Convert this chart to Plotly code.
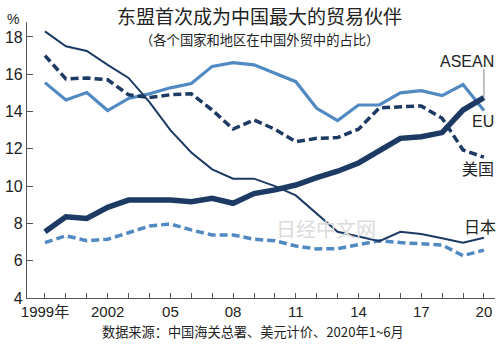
import plotly.graph_objects as go

years = list(range(1999, 2021))
japan = [18.3, 17.5, 17.25, 16.5, 15.8, 14.5, 13.0, 11.8, 10.9, 10.4, 10.4, 10.0, 9.5, 8.55, 7.55, 7.3, 7.05, 7.55, 7.43, 7.2, 6.96, 7.23]
usa = [17.0, 15.75, 15.8, 15.7, 14.9, 14.75, 14.9, 14.95, 14.08, 13.06, 13.55, 13.05, 12.38, 12.56, 12.6, 13.05, 14.2, 14.23, 14.3, 13.64, 11.94, 11.55]
eu = [15.55, 14.62, 15.02, 14.05, 14.7, 14.95, 15.27, 15.5, 16.42, 16.62, 16.5, 16.05, 15.6, 14.17, 13.51, 14.35, 14.35, 15.0, 15.12, 14.85, 15.45, 14.05]
asean = [7.55, 8.35, 8.27, 8.86, 9.25, 9.25, 9.25, 9.16, 9.35, 9.08, 9.6, 9.8, 10.06, 10.45, 10.8, 11.24, 11.94, 12.56, 12.65, 12.87, 14.08, 14.74]
korea = [6.97, 7.34, 7.07, 7.15, 7.5, 7.86, 7.97, 7.65, 7.38, 7.38, 7.15, 7.07, 6.79, 6.63, 6.65, 6.84, 7.07, 6.97, 6.9, 6.84, 6.27, 6.57]

tick_labels = {1999: "1999年", 2002: "2002", 2005: "05", 2008: "08", 2011: "11",
               2014: "14", 2017: "17", 2020: "20"}
y_ticks = [4, 6, 8, 10, 12, 14, 16, 18]

NAVY = "#1c3a63"
LIGHT = "#5189c2"

fig = go.Figure()
fig.add_trace(go.Scatter(x=years, y=korea, mode="lines",
                         line=dict(color=LIGHT, width=3.5, dash="8px,4px"), name="韩国"))
fig.add_trace(go.Scatter(x=years, y=eu, mode="lines",
                         line=dict(color=LIGHT, width=3.2), name="EU"))
fig.add_trace(go.Scatter(x=years, y=japan, mode="lines",
                         line=dict(color=NAVY, width=2), name="日本"))
fig.add_trace(go.Scatter(x=years, y=usa, mode="lines",
                         line=dict(color=NAVY, width=3.5, dash="8px,4px"), name="美国"))
fig.add_trace(go.Scatter(x=years, y=asean, mode="lines",
                         line=dict(color=NAVY, width=5.5), name="ASEAN"))

font_main = "Liberation Sans, Arial, Noto Sans CJK SC, sans-serif"
cjk = "Noto Sans CJK SC, sans-serif"

fig.update_layout(
    width=500, height=344,
    margin=dict(l=27, r=5, t=22, b=46),
    paper_bgcolor="white", plot_bgcolor="white",
    showlegend=False,
    font=dict(family=font_main, color="#222222"),
    xaxis=dict(range=[1998.14, 2020.53], showgrid=False, zeroline=False,
               showline=True, linecolor="#555555", linewidth=1.2,
               ticks="inside", ticklen=5, tickcolor="#555555", tickwidth=1,
               tickvals=years,
               ticktext=[tick_labels.get(y, "") for y in years],
               tickfont=dict(size=15, family=font_main, color="#222222")),
    yaxis=dict(range=[4, 18.8], showgrid=False, zeroline=False,
               showline=True, linecolor="#555555", linewidth=1.2,
               ticks="inside", ticklen=6, tickcolor="#555555", tickwidth=1,
               tickvals=y_ticks, ticktext=[str(v) for v in y_ticks],
               tickfont=dict(size=16, family=font_main, color="#222222")),
)

ann = [
    dict(text="东盟首次成为中国最大的贸易伙伴", x=259, y=16, size=19, fam=cjk),
    dict(text="（各个国家和地区在中国外贸中的占比）", x=259, y=40, size=13.3, fam=cjk),
    dict(text="数据来源：中国海关总署、美元计价、2020年1~6月", x=253, y=331, size=13.2, fam=cjk),
    dict(text="%", x=13, y=19, size=14, fam=font_main),
    dict(text="ASEAN", x=467, y=62, size=16, fam=font_main),
    dict(text="EU", x=483, y=121, size=16, fam=font_main),
    dict(text="美国", x=478, y=168, size=16, fam=cjk),
    dict(text="日本", x=480, y=226, size=16, fam=cjk),
]
for a in ann:
    fig.add_annotation(text=a["text"], xref="paper", yref="paper",
                       x=(a["x"] - 27) / 468, y=(298 - a["y"]) / 276,
                       xanchor="center", yanchor="middle", showarrow=False,
                       font=dict(size=a["size"], family=a["fam"], color="#222222"))

# watermark
fig.add_annotation(text="日经中文网", xref="paper", yref="paper",
                   x=(326 - 27) / 468, y=(298 - 228) / 276,
                   xanchor="center", yanchor="middle", showarrow=False,
                   font=dict(size=20, family=cjk, color="#dcdcdc"))

# ASEAN leader line
fig.add_shape(type="line", xref="x", yref="paper", x0=2020, x1=2020,
              y0=(298 - 97) / 276, y1=(298 - 69) / 276,
              line=dict(color="#999999", width=1.2))

fig.write_html("out.html")
